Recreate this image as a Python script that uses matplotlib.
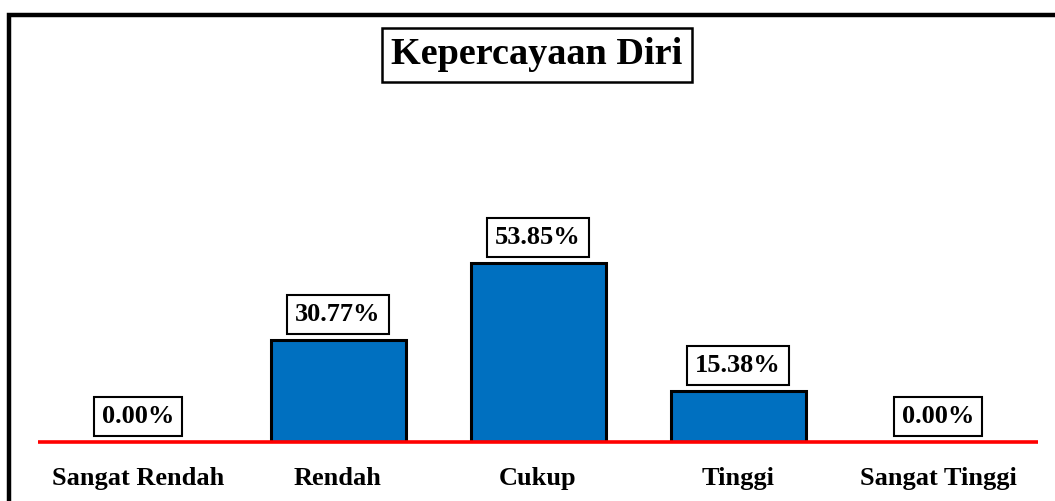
import matplotlib.pyplot as plt
from matplotlib.patches import Rectangle

categories = ['Sangat Rendah', 'Rendah', 'Cukup', 'Tinggi', 'Sangat Tinggi']
percent = [0.00, 30.77, 53.85, 15.38, 0.00]
title = 'Kepercayaan Diri'

plt.rcParams['font.family'] = ['Liberation Serif', 'DejaVu Serif']
plt.rcParams['font.weight'] = 'bold'

fig = plt.figure(figsize=(10.55, 5.01), dpi=100)
ax = fig.add_axes([38/1055, 59/501, 1000/1055, 332.4/501])

x = range(len(categories))
ax.bar(x, percent, width=0.675, color='#0070C0', edgecolor='black', linewidth=2.2, zorder=2)
ax.axhline(0, color='red', linewidth=2.6, zorder=3, clip_on=False, solid_capstyle='butt')

for i, v in enumerate(percent):
    ax.annotate('%.2f%%' % v, (i, v), xytext=(0, 10), textcoords='offset points',
                ha='center', va='bottom', fontsize=19, fontweight='bold',
                bbox=dict(boxstyle='square,pad=0.3', fc='white', ec='black', lw=1.5))

ax.set_xlim(-0.5, 4.5)
ax.set_ylim(0, 100)
ax.set_xticks(list(x))
ax.set_xticklabels(categories, fontsize=19, fontweight='bold')
ax.tick_params(axis='x', length=0, pad=18)
ax.set_yticks([])
for s in ax.spines.values():
    s.set_visible(False)

fig.text(537/1055, 1 - 55/501, title, ha='center', va='center', fontsize=27.5,
         fontweight='bold',
         bbox=dict(boxstyle='square,pad=0.25', fc='white', ec='black', lw=1.8))

# outer frame, cut off on the right and bottom like the reference
fig.patches.append(Rectangle((9/1055, -0.2), 1.2, 1 - 14.5/501 + 0.2,
                             transform=fig.transFigure, fill=False,
                             ec='black', lw=3.2, clip_on=False))

fig.savefig('out.png', dpi=100)
